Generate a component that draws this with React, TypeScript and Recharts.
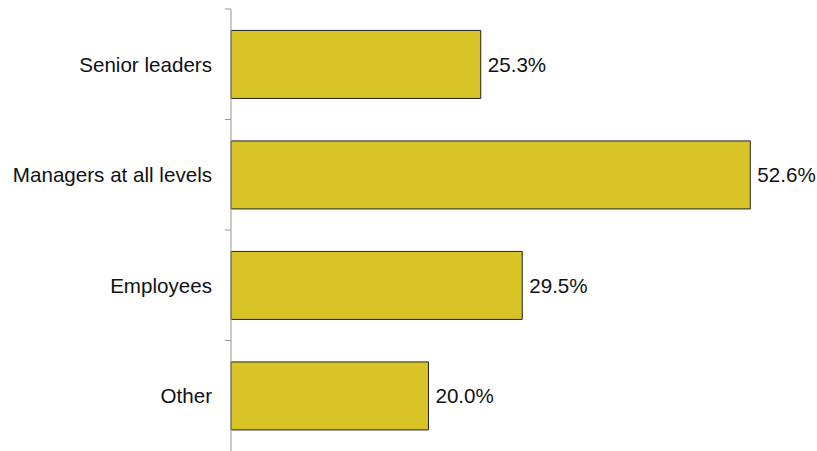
import React from "react";
import { BarChart, Bar, XAxis, YAxis, LabelList } from "recharts";

const categories = ["Senior leaders", "Managers at all levels", "Employees", "Other"];
const values = [25.3, 52.6, 29.5, 20.0];

const data = categories.map((name, i) => ({ name, value: values[i] }));

const CHART_W = 809;
const CHART_H = 443;
const MARGIN_TOP = 1;
const MARGIN_BOTTOM = 0;
const BAND = (CHART_H - MARGIN_TOP - MARGIN_BOTTOM) / categories.length;
const FONT = "Liberation Sans, Arial, sans-serif";

const CustomTick = (props: any) => {
  const { x, y, payload } = props;
  return (
    <g>
      <line x1={x + 2} x2={x + 8} y1={y - BAND / 2} y2={y - BAND / 2} stroke="#999" strokeWidth={1} />
      <text x={x - 11} y={y} textAnchor="end" dominantBaseline="central" fontSize={20.6} fill="#111" fontFamily={FONT}>
        {payload.value}
      </text>
    </g>
  );
};

const ValueLabel = (props: any) => {
  const { x, y, width, height, value } = props;
  return (
    <text
      x={x + width + 7}
      y={y + height / 2}
      textAnchor="start"
      dominantBaseline="central"
      fontSize={20.6}
      fill="#111"
      fontFamily={FONT}
    >
      {`${Number(value).toFixed(1)}%`}
    </text>
  );
};

export default function App() {
  return (
    <div style={{ width: 817, height: 451, paddingTop: 8, paddingLeft: 8, boxSizing: "border-box", overflow: "hidden" }}>
      <style>{`html,body{margin:0;padding:0;overflow:hidden}`}</style>
      <BarChart
        width={CHART_W}
        height={CHART_H}
        data={data}
        layout="vertical"
        margin={{ top: MARGIN_TOP, right: 43, bottom: MARGIN_BOTTOM, left: 0 }}
        barCategoryGap="19.4%"
      >
        <XAxis type="number" domain={[0, 55]} hide />
        <YAxis
          type="category"
          dataKey="name"
          width={223}
          axisLine={{ stroke: "#999", strokeWidth: 1 }}
          tickLine={false}
          tick={<CustomTick />}
          interval={0}
        />
        <Bar dataKey="value" fill="#D8C427" stroke="#222" strokeWidth={1} isAnimationActive={false}>
          <LabelList dataKey="value" content={<ValueLabel />} />
        </Bar>
      </BarChart>
    </div>
  );
}
